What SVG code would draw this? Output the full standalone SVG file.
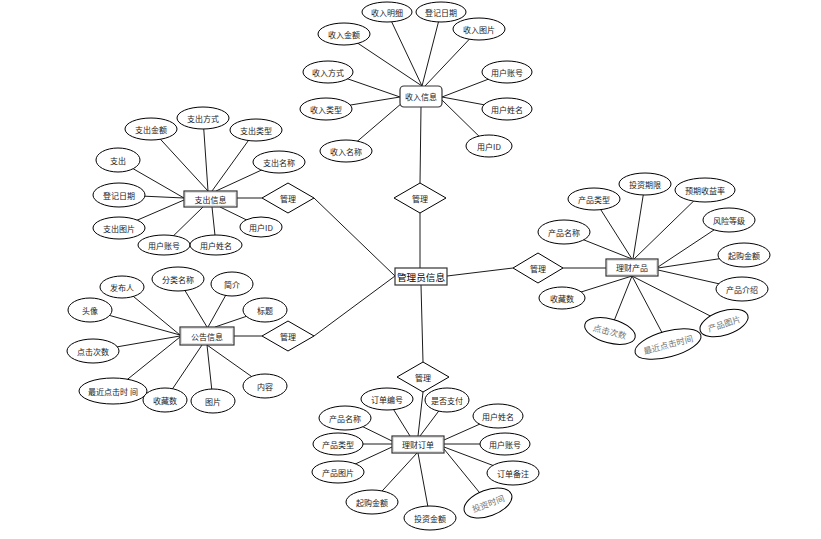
<svg xmlns="http://www.w3.org/2000/svg" width="821" height="539" viewBox="0 0 821 539">
<style>
.bg{fill:#fff}
.c line{stroke:#000;stroke-width:0.9}
ellipse{fill:#fff;stroke:#000;stroke-width:1}
.ent rect{fill:#fff;stroke:#333;stroke-width:1.2}
.ent rect.in{fill:none;stroke:#bbb;stroke-width:0.5}
polygon{fill:#fff;stroke:#000;stroke-width:1}
text{font-family:"Noto Sans CJK SC","Noto Sans",sans-serif;font-size:8px;fill:#222;text-anchor:middle;dominant-baseline:central}
text.g{fill:#777;font-size:8.5px}
text.big{font-size:9.6px;fill:#000}
</style>
<rect class="bg" width="821" height="539"/>
<g id="connectors" class="c">
<line x1="387" y1="12" x2="422" y2="86"/>
<line x1="441" y1="12" x2="422" y2="86"/>
<line x1="479" y1="29" x2="425" y2="86"/>
<line x1="344" y1="34" x2="422" y2="86"/>
<line x1="328" y1="72" x2="400" y2="97"/>
<line x1="326" y1="109" x2="400" y2="97"/>
<line x1="346" y1="151" x2="402" y2="103"/>
<line x1="507" y1="72" x2="442" y2="97"/>
<line x1="507" y1="109" x2="442" y2="97"/>
<line x1="489" y1="146" x2="442" y2="100"/>
<line x1="421" y1="107" x2="420" y2="183"/>
<line x1="420" y1="213" x2="420" y2="268"/>
<line x1="203" y1="118" x2="208" y2="191"/>
<line x1="151" y1="129" x2="208" y2="191"/>
<line x1="256" y1="130" x2="212" y2="191"/>
<line x1="279" y1="162" x2="216" y2="191"/>
<line x1="118" y1="160" x2="184" y2="198"/>
<line x1="119" y1="195" x2="184" y2="198"/>
<line x1="119" y1="228" x2="184" y2="200"/>
<line x1="164" y1="245" x2="203" y2="207"/>
<line x1="216" y1="245" x2="212" y2="207"/>
<line x1="261" y1="227" x2="220" y2="207"/>
<line x1="237" y1="198" x2="262" y2="198"/>
<line x1="314" y1="198" x2="395" y2="276"/>
<line x1="122" y1="287" x2="180" y2="335"/>
<line x1="178" y1="279" x2="207" y2="327"/>
<line x1="232" y1="284" x2="208" y2="327"/>
<line x1="265" y1="310" x2="215" y2="327"/>
<line x1="90" y1="310" x2="180" y2="335"/>
<line x1="93" y1="351" x2="180" y2="336"/>
<line x1="113" y1="391" x2="180" y2="337"/>
<line x1="165" y1="400" x2="202" y2="345"/>
<line x1="213" y1="401" x2="207" y2="345"/>
<line x1="265" y1="386" x2="207" y2="345"/>
<line x1="234" y1="336" x2="262" y2="336"/>
<line x1="314" y1="336" x2="395" y2="276"/>
<line x1="447" y1="276" x2="513" y2="268"/>
<line x1="563" y1="268" x2="606" y2="268"/>
<line x1="645" y1="184" x2="633" y2="259"/>
<line x1="594" y1="199" x2="632" y2="259"/>
<line x1="705" y1="190" x2="633" y2="260"/>
<line x1="729" y1="220" x2="658" y2="267"/>
<line x1="564" y1="232" x2="632" y2="259"/>
<line x1="744" y1="255" x2="658" y2="268"/>
<line x1="742" y1="289" x2="658" y2="270"/>
<line x1="562" y1="298" x2="632" y2="276"/>
<line x1="610" y1="331" x2="632" y2="276"/>
<line x1="668" y1="344" x2="632" y2="276"/>
<line x1="724" y1="323" x2="632" y2="276"/>
<line x1="421" y1="285" x2="423" y2="362"/>
<line x1="423" y1="392" x2="418" y2="436"/>
<line x1="387" y1="399" x2="410" y2="436"/>
<line x1="447" y1="400" x2="420" y2="436"/>
<line x1="345" y1="418" x2="392" y2="441"/>
<line x1="498" y1="416" x2="444" y2="440"/>
<line x1="338" y1="444" x2="392" y2="444"/>
<line x1="505" y1="444" x2="444" y2="444"/>
<line x1="338" y1="472" x2="392" y2="447"/>
<line x1="513" y1="473" x2="444" y2="447"/>
<line x1="372" y1="502" x2="417" y2="453"/>
<line x1="430" y1="518" x2="418" y2="453"/>
<line x1="488" y1="503" x2="444" y2="449"/>
</g>
<g id="admin" class="ent"><rect x="395" y="268" width="52" height="17"/><text class="big" x="421" y="276.5">管理员信息</text></g>
<g id="income" class="ent"><rect x="400" y="86" width="42" height="21" rx="4"/><text x="421" y="96.5">收入信息</text></g>
<g id="expense" class="ent"><rect x="184" y="191" width="53" height="16"/><rect class="in" x="185.5" y="192.5" width="50" height="13"/><text x="210.5" y="199">支出信息</text></g>
<g id="notice" class="ent"><rect x="180" y="327" width="54" height="18"/><rect class="in" x="181.5" y="328.5" width="51" height="15"/><text x="207" y="336">公告信息</text></g>
<g id="product" class="ent"><rect x="606" y="259" width="52" height="17"/><rect class="in" x="607.5" y="260.5" width="49" height="14"/><text x="632" y="267.5">理财产品</text></g>
<g id="order" class="ent"><rect x="392" y="436" width="52" height="17"/><rect class="in" x="393.5" y="437.5" width="49" height="14"/><text x="418" y="444.5">理财订单</text></g>
<g id="rel-income"><polygon points="394,198 420,183 446,198 420,213"/><text x="420" y="198">管理</text></g>
<g id="rel-expense"><polygon points="262,198 288,183 314,198 288,213"/><text x="288" y="198">管理</text></g>
<g id="rel-notice"><polygon points="262,336 288,321 314,336 288,351"/><text x="288" y="336">管理</text></g>
<g id="rel-product"><polygon points="513,268 538,253 563,268 538,283"/><text x="538" y="268">管理</text></g>
<g id="rel-order"><polygon points="397,377 423,362 449,377 423,392"/><text x="423" y="377">管理</text></g>
<g id="in-1"><ellipse cx="387" cy="12" rx="25" ry="10"/><text x="387" y="12">收入明细</text></g>
<g id="in-2"><ellipse cx="441" cy="12" rx="25" ry="10"/><text x="441" y="12">登记日期</text></g>
<g id="in-3"><ellipse cx="479" cy="29" rx="26" ry="11"/><text x="479" y="29">收入图片</text></g>
<g id="in-4"><ellipse cx="344" cy="34" rx="26" ry="11"/><text x="344" y="34">收入金额</text></g>
<g id="in-5"><ellipse cx="328" cy="72" rx="25" ry="11"/><text x="328" y="72">收入方式</text></g>
<g id="in-6"><ellipse cx="326" cy="109" rx="26" ry="11"/><text x="326" y="109">收入类型</text></g>
<g id="in-7"><ellipse cx="346" cy="151" rx="26" ry="11"/><text x="346" y="151">收入名称</text></g>
<g id="in-8"><ellipse cx="507" cy="72" rx="25" ry="11"/><text x="507" y="72">用户账号</text></g>
<g id="in-9"><ellipse cx="507" cy="109" rx="25" ry="11"/><text x="507" y="109">用户姓名</text></g>
<g id="in-10"><ellipse cx="489" cy="146" rx="23" ry="11"/><text x="489" y="146">用户ID</text></g>
<g id="ex-1"><ellipse cx="203" cy="118" rx="26" ry="11"/><text x="203" y="118">支出方式</text></g>
<g id="ex-2"><ellipse cx="151" cy="129" rx="26" ry="11"/><text x="151" y="129">支出金额</text></g>
<g id="ex-3"><ellipse cx="256" cy="130" rx="26" ry="11"/><text x="256" y="130">支出类型</text></g>
<g id="ex-4"><ellipse cx="279" cy="162" rx="26" ry="11"/><text x="279" y="162">支出名称</text></g>
<g id="ex-5"><ellipse cx="118" cy="160" rx="22" ry="12"/><text x="118" y="160">支出</text></g>
<g id="ex-6"><ellipse cx="119" cy="195" rx="26" ry="12"/><text x="119" y="195">登记日期</text></g>
<g id="ex-7"><ellipse cx="119" cy="228" rx="26" ry="11"/><text x="119" y="228">支出图片</text></g>
<g id="ex-8"><ellipse cx="164" cy="245" rx="26" ry="10"/><text x="164" y="245">用户账号</text></g>
<g id="ex-9"><ellipse cx="216" cy="245" rx="26" ry="10"/><text x="216" y="245">用户姓名</text></g>
<g id="ex-10"><ellipse cx="261" cy="227" rx="21" ry="10"/><text x="261" y="227">用户ID</text></g>
<g id="no-1"><ellipse cx="122" cy="287" rx="22" ry="11"/><text x="122" y="287">发布人</text></g>
<g id="no-2"><ellipse cx="178" cy="279" rx="26" ry="12"/><text x="178" y="279">分类名称</text></g>
<g id="no-3"><ellipse cx="232" cy="284" rx="21" ry="12"/><text x="232" y="284">简介</text></g>
<g id="no-4"><ellipse cx="265" cy="310" rx="22" ry="12"/><text x="265" y="310">标题</text></g>
<g id="no-5"><ellipse cx="90" cy="310" rx="22" ry="12"/><text x="90" y="310">头像</text></g>
<g id="no-6"><ellipse cx="93" cy="351" rx="26" ry="12"/><text x="93" y="351">点击次数</text></g>
<g id="no-7"><ellipse cx="113" cy="391" rx="34" ry="13"/><text x="113" y="391">最近点击时 间</text></g>
<g id="no-8"><ellipse cx="165" cy="400" rx="22" ry="12"/><text x="165" y="400">收藏数</text></g>
<g id="no-9"><ellipse cx="213" cy="401" rx="22" ry="12"/><text x="213" y="401">图片</text></g>
<g id="no-10"><ellipse cx="265" cy="386" rx="22" ry="12"/><text x="265" y="386">内容</text></g>
<g id="pr-1"><ellipse cx="645" cy="184" rx="26" ry="11"/><text x="645" y="184">投资期限</text></g>
<g id="pr-2"><ellipse cx="594" cy="199" rx="26" ry="11"/><text x="594" y="199">产品类型</text></g>
<g id="pr-3"><ellipse cx="705" cy="190" rx="30" ry="12"/><text x="705" y="190">预期收益率</text></g>
<g id="pr-4"><ellipse cx="729" cy="220" rx="26" ry="12"/><text x="729" y="220">风险等级</text></g>
<g id="pr-5"><ellipse cx="564" cy="232" rx="26" ry="12"/><text x="564" y="232">产品名称</text></g>
<g id="pr-6"><ellipse cx="744" cy="255" rx="26" ry="12"/><text x="744" y="255">起购金额</text></g>
<g id="pr-7"><ellipse cx="742" cy="289" rx="26" ry="12"/><text x="742" y="289">产品介绍</text></g>
<g id="pr-8"><ellipse cx="562" cy="298" rx="23" ry="11"/><text x="562" y="298">收藏数</text></g>
<g id="pr-9" transform="rotate(15 610 331)"><ellipse cx="610" cy="331" rx="26" ry="12"/><text class="g" x="610" y="331">点击次数</text></g>
<g id="pr-10" transform="rotate(-15 668 344)"><ellipse cx="668" cy="344" rx="34" ry="13"/><text class="g" x="668" y="344">最近点击时间</text></g>
<g id="pr-11" transform="rotate(-18 724 323)"><ellipse cx="724" cy="323" rx="25" ry="12"/><text class="g" x="724" y="323">产品图片</text></g>
<g id="or-1"><ellipse cx="387" cy="399" rx="26" ry="11"/><text x="387" y="399">订单编号</text></g>
<g id="or-2"><ellipse cx="447" cy="400" rx="22" ry="12"/><text x="447" y="400">是否支付</text></g>
<g id="or-3"><ellipse cx="345" cy="418" rx="26" ry="12"/><text x="345" y="418">产品名称</text></g>
<g id="or-4"><ellipse cx="498" cy="416" rx="25" ry="12"/><text x="498" y="416">用户姓名</text></g>
<g id="or-5"><ellipse cx="338" cy="444" rx="25" ry="11"/><text x="338" y="444">产品类型</text></g>
<g id="or-6"><ellipse cx="505" cy="444" rx="25" ry="11"/><text x="505" y="444">用户账号</text></g>
<g id="or-7"><ellipse cx="338" cy="472" rx="26" ry="11"/><text x="338" y="472">产品图片</text></g>
<g id="or-8"><ellipse cx="513" cy="473" rx="26" ry="12"/><text x="513" y="473">订单备注</text></g>
<g id="or-9"><ellipse cx="372" cy="502" rx="26" ry="12"/><text x="372" y="502">起购金额</text></g>
<g id="or-10"><ellipse cx="430" cy="518" rx="26" ry="12"/><text x="430" y="518">投资金额</text></g>
<g id="or-11" transform="rotate(-20 488 503)"><ellipse cx="488" cy="503" rx="25" ry="13"/><text class="g" x="488" y="503">投资时间</text></g>
</svg>
